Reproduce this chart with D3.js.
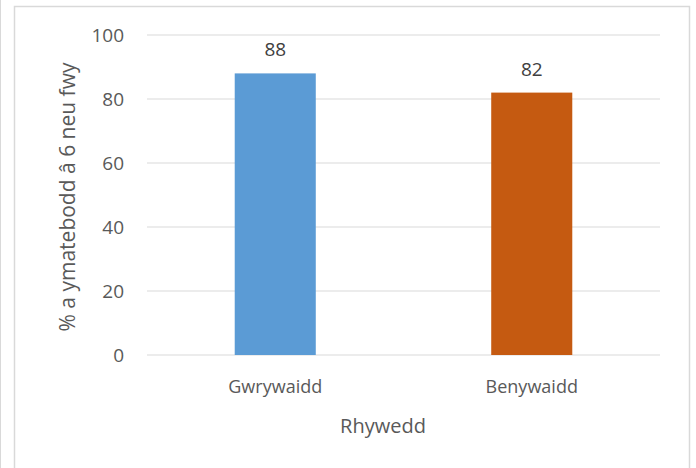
<!DOCTYPE html>
<html lang="cy">
<head>
<meta charset="utf-8">
<title>Rhywedd</title>
<script src="https://cdnjs.cloudflare.com/ajax/libs/d3/7.8.5/d3.min.js"></script>
<style>
  body { margin: 0; background: #fff; }
  text { font-family: "Open Sans", "Noto Sans", sans-serif; fill: #595959; }
</style>
</head>
<body>
<script>
// data
var categories = ["Gwrywaidd", "Benywaidd"];
var values = [88, 82];
var barColors = ["#5B9BD5", "#C55A11"];
var yTicks = [0, 20, 40, 60, 80, 100];

var w = 696, h = 468;
var plotLeft = 147, plotRight = 660, plotTop = 35, plotBottom = 355;

var svg = d3.select("body").append("svg")
  .attr("width", w).attr("height", h);

// outer frame (open at the bottom)
svg.append("path")
  .attr("d", "M14.5,470 V6.5 H689.5 V470")
  .attr("fill", "none").attr("stroke", "#d9d9d9").attr("stroke-width", 1.5);
svg.append("line").attr("x1", 0.5).attr("x2", 0.5).attr("y1", 0).attr("y2", h)
  .attr("stroke", "#d9d9d9");

var x = d3.scaleBand().domain(categories).range([plotLeft, plotRight]).paddingInner(0.684).paddingOuter(0.342);
var y = d3.scaleLinear().domain([0, 100]).range([plotBottom, plotTop]);

// gridlines
svg.append("g").selectAll("line")
  .data(yTicks).enter().append("line")
  .attr("x1", plotLeft).attr("x2", plotRight)
  .attr("y1", function(d) { return y(d); })
  .attr("y2", function(d) { return y(d); })
  .attr("stroke", "#d9d9d9").attr("stroke-width", 1.2);

// y tick labels
svg.append("g").selectAll("text")
  .data(yTicks).enter().append("text")
  .attr("x", 124)
  .attr("y", function(d) { return y(d); })
  .attr("dy", "0.36em")
  .attr("text-anchor", "end")
  .style("font-size", "19px")
  .text(function(d) { return d; });

// bars
svg.append("g").selectAll("rect")
  .data(values).enter().append("rect")
  .attr("x", function(d, i) { return x(categories[i]); })
  .attr("width", x.bandwidth())
  .attr("y", function(d) { return y(d); })
  .attr("height", function(d) { return y(0) - y(d); })
  .attr("fill", function(d, i) { return barColors[i]; });

// value labels
svg.append("g").selectAll("text")
  .data(values).enter().append("text")
  .attr("x", function(d, i) { return x(categories[i]) + x.bandwidth() / 2; })
  .attr("y", function(d) { return y(d) - 17; })
  .attr("text-anchor", "middle")
  .style("font-size", "19px")
  .style("fill", "#404040")
  .text(function(d) { return d; });

// category labels
svg.append("g").selectAll("text")
  .data(categories).enter().append("text")
  .attr("x", function(d) { return x(d) + x.bandwidth() / 2; })
  .attr("y", 393)
  .attr("text-anchor", "middle")
  .style("font-size", "18px")
  .text(function(d) { return d; });

// axis titles
svg.append("text")
  .attr("x", 383)
  .attr("y", 433)
  .attr("text-anchor", "middle")
  .style("font-size", "20px")
  .text("Rhywedd");

svg.append("text")
  .attr("transform", "translate(75,197) rotate(-90)")
  .attr("text-anchor", "middle")
  .style("font-size", "21px")
  .text("% a ymatebodd â 6 neu fwy");
</script>
</body>
</html>
